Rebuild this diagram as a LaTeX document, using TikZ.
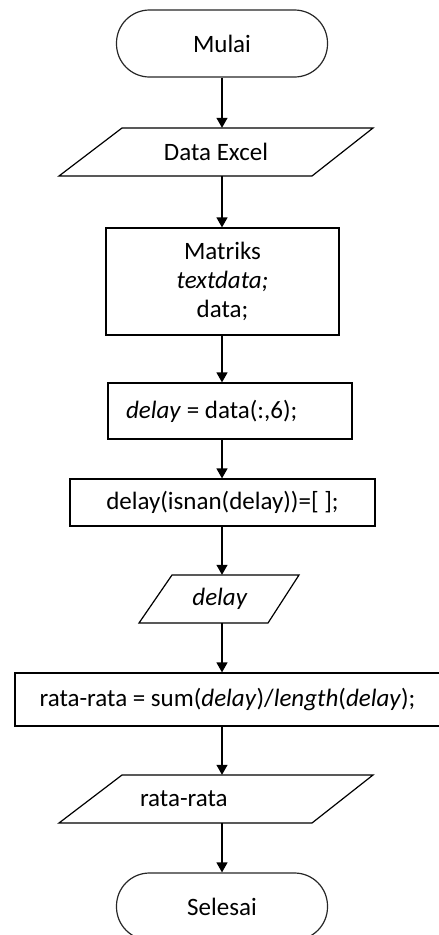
\documentclass[tikz,border=0pt]{standalone}
\usepackage{fontspec}
\setmainfont{Carlito}
\usetikzlibrary{arrows.meta}
\tikzset{
  flow/.style={draw=black, line width=1.2pt},
  termbox/.style={flow, draw=black!85, rectangle, rounded corners=33pt, minimum width=211pt,
    minimum height=67pt, inner sep=0pt},
  procbox/.style={flow, rectangle, inner sep=0pt},
  ioframe/.style={rectangle, inner sep=0pt, minimum height=48pt, minimum width=10pt},
  arr/.style={line width=1.2pt, -{Triangle[length=10pt,width=11pt]}},
}
% parallelogram outline around an ioframe node: top-left, top-right,
% bottom-right and bottom-left x offsets from its centre
\newcommand\ioshape[5]{%
  \draw[flow] ([shift={(#2,-24)}]#1.center) -- ([shift={(#3,-24)}]#1.center)
    -- ([shift={(#4,24)}]#1.center) -- ([shift={(#5,24)}]#1.center) -- cycle;}
\begin{document}
\begin{tikzpicture}[x=1pt,y=-1pt,font=\fontsize{25}{29}\selectfont]
\useasboundingbox (0,0) rectangle (439,935);
\clip (0,0) rectangle (439,935);

\node[termbox] (start) at (222,43.5) {Mulai};

\node[ioframe] (excel) at (222,152) {\hspace*{-12pt}Data Excel};
\ioshape{excel}{-100}{151}{90}{-163}

\node[procbox, minimum width=233pt, minimum height=107pt, align=center]
  (matrix) at (222.5,281.5) {Matriks\\\textit{textdata;}\\data;};

\node[procbox, minimum width=244pt, minimum height=56pt]
  (assign) at (230,411) {\makebox[208pt][l]{\textit{delay} = data(:,6);}};

\node[procbox, minimum width=305pt, minimum height=47pt]
  (clean) at (222.5,502.5) {delay(isnan(delay))=[~];};

\node[ioframe] (outdelay) at (222,599) {\hspace*{-4pt}\textit{delay}};
\ioshape{outdelay}{-50}{77}{46}{-83}

\node[procbox, minimum width=425pt, minimum height=53pt]
  (mean) at (227.5,699.5)
  {rata-rata = sum(\textit{delay})/\textit{length}(\textit{delay});};

\node[ioframe] (outmean) at (222,799) {\makebox[164pt][l]{rata-rata}};
\ioshape{outmean}{-100}{151}{90}{-163}

\node[termbox] (stop) at (222,906.5) {Selesai};

\draw[arr] (start) -- (excel);
\draw[arr] (excel) -- (matrix.north -| excel);
\draw[arr] (matrix.south -| excel) -- (assign.north -| excel);
\draw[arr] (assign.south -| excel) -- (clean.north -| excel);
\draw[arr] (clean.south -| excel) -- (outdelay);
\draw[arr] (outdelay) -- (mean.north -| excel);
\draw[arr] (mean.south -| excel) -- (outmean);
\draw[arr] (outmean) -- (stop);
\end{tikzpicture}
\end{document}
